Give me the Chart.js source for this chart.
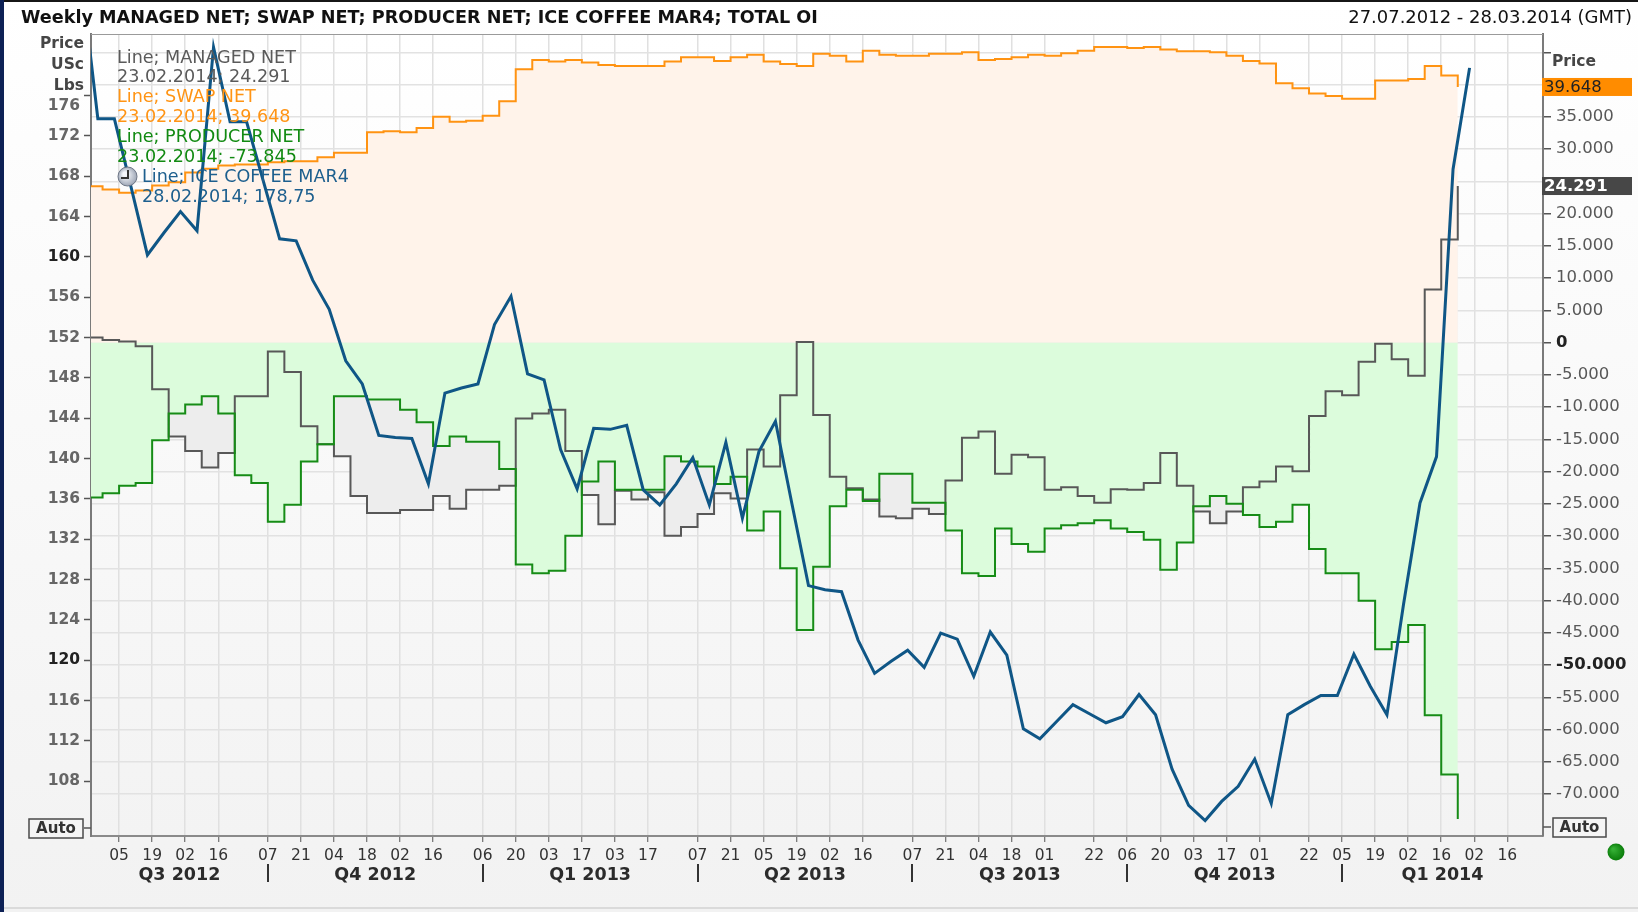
<!DOCTYPE html>
<html>
<head>
<meta charset="utf-8">
<title>Weekly COT - ICE Coffee MAR4</title>
<script src="https://cdn.jsdelivr.net/npm/chart.js@4.4.1/dist/chart.umd.min.js"></script>
<style>
  html, body { margin: 0; padding: 0; background: #f4f4f4; }
  #wrap { width: 1638px; height: 912px; }
  canvas { display: block; }
</style>
</head>
<body>
<div id="wrap"><canvas id="cot" width="1638" height="912"></canvas></div>
<script>
const FONT = '"DejaVu Sans", Verdana, sans-serif';

// COT report values, one per week starting Sunday 22.07.2012
const cotStart = '2012-07-22';
const managedNet = [800, 400, 200, -560, -7200, -14560, -16800, -19360, -17120, -8320,
  -8320, -1360, -4560, -12960, -15760, -17600, -23760, -26400, -26400, -25920,
  -25920, -23760, -25760, -22800, -22800, -22160, -11760, -10960, -10400, -16800,
  -23600, -28160, -22960, -24320, -23200, -29920, -28560, -26560, -23360, -24160,
  -16560, -19200, -8160, 100, -11200, -20800, -22560, -24320, -26960, -27200,
  -25760, -26560, -21360, -14720, -13760, -20320, -17360, -17760, -22800, -22400,
  -23760, -24800, -22720, -22800, -21760, -17120, -22160, -26160, -28000, -26160,
  -22400, -21520, -19200, -19920, -11360, -7520, -8160, -2960, -160, -2560,
  -5120, 8240, 16000, 24291];
const swapNet = [24270, 23750, 23240, 23600, 24370, 24880, 26400, 26950, 27470, 27620,
  27620, 27980, 28140, 28140, 28760, 29430, 29430, 32630, 32800, 32640,
  33280, 35040, 34240, 34400, 35200, 37440, 42400, 43840, 43600, 43840,
  43440, 43040, 42880, 42880, 42880, 43600, 44240, 44240, 43680, 44240,
  44640, 43600, 43200, 42880, 44800, 44480, 43600, 45280, 44640, 44480,
  44480, 44800, 44800, 45040, 43840, 44000, 44240, 44640, 44480, 44880,
  45280, 45840, 45840, 45680, 45840, 45440, 45200, 45200, 45040, 44480,
  43680, 43280, 40240, 39440, 38640, 38240, 37840, 37840, 40640, 40640,
  40880, 42880, 41440, 39648];
const producerNet = [-24000, -23360, -22160, -21760, -15120, -10960, -9600, -8320, -10960, -20560,
  -21760, -27760, -25120, -18400, -15760, -8320, -8320, -8800, -8800, -10400,
  -12320, -16000, -14560, -15360, -15360, -19600, -34400, -35760, -35360, -29920,
  -21520, -18400, -22800, -22800, -22800, -17600, -18400, -19200, -21920, -20800,
  -29120, -26160, -34960, -44560, -34720, -25360, -22800, -24560, -20320, -20320,
  -24800, -24800, -29120, -35760, -36160, -28800, -31200, -32400, -28800, -28320,
  -28000, -27520, -28800, -29360, -30560, -35200, -30960, -25360, -23760, -24960,
  -26720, -28560, -27760, -25120, -32000, -35760, -35760, -40000, -47520, -46400,
  -43760, -57760, -66960, -73845];

// ICE coffee MAR4 weekly close (USc/lb), one per week starting Friday 20.07.2012
const priceStart = '2012-07-20';
const coffeePrice = [187.8, 173.7, 173.7, 167.0, 160.2, 162.4, 164.5, 162.6, 180.8, 173.4,
  173.4, 167.6, 161.8, 161.6, 157.7, 154.8, 149.7, 147.4, 142.3, 142.1,
  142.0, 137.5, 146.5, 147.0, 147.4, 153.3, 156.1, 148.4, 147.8, 140.9,
  137.0, 143.0, 142.9, 143.3, 136.9, 135.4, 137.5, 140.1, 135.4, 141.6,
  134.1, 140.7, 143.7, 135.5, 127.4, 127.0, 126.8, 122.0, 118.7, 119.9,
  121.0, 119.3, 122.7, 122.1, 118.4, 122.8, 120.5, 113.2, 112.2, 113.9,
  115.6, 114.7, 113.8, 114.4, 116.6, 114.6, 109.2, 105.6, 104.1, 106.0,
  107.5, 110.2, 105.8, 114.6, 115.6, 116.5, 116.5, 120.6, 117.4, 114.6,
  125.5, 135.6, 140.2, 168.7, 178.75];

// axis labels
const tickDates = ['2012-08-05', '2012-08-19', '2012-09-02', '2012-09-16', '2012-10-07', '2012-10-21',
  '2012-11-04', '2012-11-18', '2012-12-02', '2012-12-16', '2013-01-06', '2013-01-20', '2013-02-03',
  '2013-02-17', '2013-03-03', '2013-03-17', '2013-04-07', '2013-04-21', '2013-05-05', '2013-05-19',
  '2013-06-02', '2013-06-16', '2013-07-07', '2013-07-21', '2013-08-04', '2013-08-18', '2013-09-01',
  '2013-09-22', '2013-10-06', '2013-10-20', '2013-11-03', '2013-11-17', '2013-12-01', '2013-12-22',
  '2014-01-05', '2014-01-19', '2014-02-02', '2014-02-16', '2014-03-02', '2014-03-16'];
const quarterLabels = ['Q3 2012', 'Q4 2012', 'Q1 2013', 'Q2 2013', 'Q3 2013', 'Q4 2013', 'Q1 2014'];
const quarterBreaks = ['2012-10-07', '2013-01-06', '2013-04-07', '2013-07-07', '2013-10-06', '2014-01-05'];
const priceTicks = [108, 112, 116, 120, 124, 128, 132, 136, 140, 144, 148, 152, 156, 160, 164, 168, 172, 176];
const netTicks = [-70000, -65000, -60000, -55000, -50000, -45000, -40000, -35000, -30000, -25000, -20000,
  -15000, -10000, -5000, 0, 5000, 10000, 15000, 20000, 25000, 30000, 35000, 40000, 45000];
// labels that sit under the header / value boxes in the original
const hiddenNetLabels = [25000, 40000, 45000];

const infoLines = [
  ['Line; MANAGED NET', '#5a5a5a'], ['23.02.2014; 24.291', '#5a5a5a'],
  ['Line; SWAP NET', '#ff9414'], ['23.02.2014; 39.648', '#ff9414'],
  ['Line; PRODUCER NET', '#128a12'], ['23.02.2014; -73.845', '#128a12'],
  ['Line; ICE COFFEE MAR4', '#1d5f8e'], ['28.02.2014; 178,75', '#1d5f8e'],
];

const DAY0 = Date.UTC(2012, 6, 27);
function dayOf(str) {
  const [y, m, d] = str.split('-').map(Number);
  return (Date.UTC(y, m - 1, d) - DAY0) / 86400000;
}
function dayLabel(v) {
  const dt = new Date(DAY0 + v * 86400000);
  return String(dt.getUTCDate()).padStart(2, '0');
}
function fmtNet(v) {
  const s = Math.abs(v).toString().replace(/\B(?=(\d{3})+(?!\d))/g, '.');
  return (v < 0 ? '-' : '') + s;
}
function weekly(start, values) {
  const d0 = dayOf(start);
  return values.map((v, i) => ({ x: d0 + 7 * i, y: v }));
}

function fitText(ctx, text, x, y, w, weight, color, align) {
  ctx.font = weight + ' 100px ' + FONT;
  const size = 100 * w / ctx.measureText(text).width;
  ctx.font = weight + ' ' + size.toFixed(2) + 'px ' + FONT;
  ctx.fillStyle = color;
  ctx.textAlign = align;
  ctx.fillText(text, x, y);
  return size;
}

function autoBox(ctx, x, y, w, h) {
  ctx.fillStyle = '#f5f5f5';
  ctx.fillRect(x, y, w, h);
  ctx.strokeStyle = '#4a4a4a';
  ctx.lineWidth = 1.5;
  ctx.strokeRect(x, y, w, h);
  ctx.fillStyle = '#333';
  ctx.font = 'bold 15px ' + FONT;
  ctx.textAlign = 'center';
  ctx.textBaseline = 'middle';
  ctx.fillText('Auto', x + w / 2, y + h / 2 + 1);
}

function valueBox(ctx, y, text, bg, fg, weight) {
  ctx.fillStyle = bg;
  ctx.fillRect(1542, y - 9, 90, 18);
  ctx.fillStyle = fg;
  ctx.font = weight + ' 16.5px ' + FONT;
  ctx.textAlign = 'left';
  ctx.textBaseline = 'middle';
  ctx.fillText(text, 1544, y + 1);
}

// page and plot backgrounds
const backdrop = {
  id: 'backdrop',
  beforeDraw(chart) {
    const { ctx, chartArea: a, width, height } = chart;
    ctx.save();
    let g = ctx.createLinearGradient(0, 0, 0, height);
    g.addColorStop(0, '#ffffff');
    g.addColorStop(1, '#f2f2f2');
    ctx.fillStyle = g;
    ctx.fillRect(0, 0, width, height);
    g = ctx.createLinearGradient(0, a.top, 0, a.bottom);
    g.addColorStop(0, '#ffffff');
    g.addColorStop(1, '#f3f3f3');
    ctx.fillStyle = g;
    ctx.fillRect(a.left, a.top, a.right - a.left, a.bottom - a.top);
    ctx.fillStyle = '#161616';
    ctx.fillRect(0, 0, width, 2);
    ctx.fillStyle = '#0d2155';
    ctx.fillRect(0, 0, 4, height);
    ctx.fillStyle = '#dadada';
    ctx.fillRect(4, height - 5, width, 2);
    ctx.restore();
  }
};

// titles, info text, value boxes, quarter labels
const overlay = {
  id: 'overlay',
  afterDraw(chart) {
    const { ctx, chartArea: a, scales } = chart;
    const xs = scales.x, yP = scales.yPrice, yN = scales.yNet;
    ctx.save();
    ctx.strokeStyle = '#9a9a9a';
    ctx.lineWidth = 1;
    ctx.beginPath();
    ctx.moveTo(a.left, a.top + 0.5);
    ctx.lineTo(a.right, a.top + 0.5);
    ctx.stroke();

    ctx.textBaseline = 'middle';
    fitText(ctx, 'Weekly MANAGED NET; SWAP NET; PRODUCER NET; ICE COFFEE MAR4; TOTAL OI', 21, 18, 797, 'bold', '#111', 'left');
    fitText(ctx, '27.07.2012 - 28.03.2014 (GMT)', 1632, 18, 284, 'normal', '#111', 'right');

    ctx.font = 'bold 15.5px ' + FONT;
    ctx.fillStyle = '#454545';
    ctx.textAlign = 'right';
    ctx.fillText('Price', 84, 44);
    ctx.fillText('USc', 84, 65);
    ctx.fillText('Lbs', 84, 86);
    // the top price label is pushed below the "Lbs" header
    ctx.fillStyle = '#666';
    ctx.fillText(String(priceTicks[priceTicks.length - 1]), 80, yP.getPixelForValue(priceTicks[priceTicks.length - 1]) + 10);
    ctx.fillStyle = '#454545';
    ctx.textAlign = 'left';
    ctx.fillText('Price', 1552, 62);

    // data readout in the top-left corner
    ctx.font = 'normal 100px ' + FONT;
    const infoSize = 100 * 179 / ctx.measureText(infoLines[0][0]).width;
    ctx.font = 'normal ' + infoSize.toFixed(2) + 'px ' + FONT;
    infoLines.forEach(([text, color], i) => {
      ctx.fillStyle = color;
      ctx.fillText(text, i < 6 ? 117 : 142, 58 + i * 19.9);
    });
    const ig = ctx.createRadialGradient(125, 174, 2, 127.5, 176.5, 10);
    ig.addColorStop(0, '#f4f6fa');
    ig.addColorStop(1, '#9aa3b3');
    ctx.fillStyle = ig;
    ctx.beginPath();
    ctx.arc(127.5, 176.5, 9.5, 0, Math.PI * 2);
    ctx.fill();
    ctx.strokeStyle = '#6d7686';
    ctx.lineWidth = 1;
    ctx.stroke();
    ctx.strokeStyle = '#333';
    ctx.lineWidth = 2;
    ctx.beginPath();
    ctx.moveTo(128, 170);
    ctx.lineTo(128, 178);
    ctx.lineTo(121, 178);
    ctx.stroke();

    // last value boxes on the right axis
    valueBox(ctx, yN.getPixelForValue(swapNet[swapNet.length - 1]), fmtNet(swapNet[swapNet.length - 1]), '#ff8c00', '#222', 'normal');
    valueBox(ctx, yN.getPixelForValue(managedNet[managedNet.length - 1]), fmtNet(managedNet[managedNet.length - 1]), '#474747', '#fff', 'bold');

    // Auto boxes
    ctx.strokeStyle = '#555';
    ctx.lineWidth = 1.5;
    ctx.beginPath();
    ctx.moveTo(84, 828); ctx.lineTo(a.left, 828);
    ctx.moveTo(a.right, 827); ctx.lineTo(a.right + 8, 827);
    ctx.stroke();
    autoBox(ctx, 29, 819, 54, 19);
    autoBox(ctx, 1553, 818, 53, 19);

    // quarter labels and separators
    const bounds = [xs.min].concat(quarterBreaks.map(dayOf), [xs.max]);
    ctx.font = 'bold 17.5px ' + FONT;
    ctx.fillStyle = '#2b2b2b';
    ctx.textAlign = 'center';
    quarterLabels.forEach((q, i) => {
      const px = xs.getPixelForValue((bounds[i] + bounds[i + 1]) / 2);
      ctx.fillText(q, px, 875);
    });
    ctx.strokeStyle = '#333';
    ctx.lineWidth = 2;
    quarterBreaks.forEach(d => {
      const px = Math.round(xs.getPixelForValue(dayOf(d)));
      ctx.beginPath();
      ctx.moveTo(px, 864);
      ctx.lineTo(px, 882);
      ctx.stroke();
    });

    // status dot
    const dg = ctx.createRadialGradient(1613, 849, 1, 1616, 852, 9);
    dg.addColorStop(0, '#35b035');
    dg.addColorStop(1, '#087a08');
    ctx.fillStyle = dg;
    ctx.beginPath();
    ctx.arc(1616, 852, 8.5, 0, Math.PI * 2);
    ctx.fill();
    ctx.restore();
  }
};

const chart = new Chart(document.getElementById('cot').getContext('2d'), {
  type: 'line',
  data: {
    datasets: [
      {
        label: 'ICE COFFEE MAR4',
        data: weekly(priceStart, coffeePrice),
        yAxisID: 'yPrice',
        borderColor: '#0f5686',
        borderWidth: 3,
        pointRadius: 0,
        fill: false,
        clip: 0,
      },
      {
        label: 'PRODUCER NET',
        data: weekly(cotStart, producerNet),
        yAxisID: 'yNet',
        stepped: 'before',
        borderColor: '#168c16',
        borderWidth: 2,
        pointRadius: 0,
        fill: 'origin',
        backgroundColor: '#dcfcdc',
        clip: 0,
      },
      {
        label: 'SWAP NET',
        data: weekly(cotStart, swapNet),
        yAxisID: 'yNet',
        stepped: 'before',
        borderColor: '#ff9312',
        borderWidth: 2,
        pointRadius: 0,
        fill: 'origin',
        backgroundColor: '#fff3ea',
        clip: 0,
      },
      {
        label: 'MANAGED NET',
        data: weekly(cotStart, managedNet),
        yAxisID: 'yNet',
        stepped: 'before',
        borderColor: '#585858',
        borderWidth: 2,
        pointRadius: 0,
        fill: 'origin',
        backgroundColor: '#ededed',
        clip: 0,
      },
    ],
  },
  options: {
    responsive: false,
    animation: false,
    devicePixelRatio: 1,
    layout: { padding: { top: 34, left: 0, right: 0, bottom: 0 } },
    plugins: {
      legend: { display: false },
      tooltip: { enabled: false },
      filler: { drawTime: 'beforeDatasetsDraw' },
    },
    scales: {
      x: {
        type: 'linear',
        min: -2.9,
        max: 612.1,
        afterBuildTicks: (s) => { s.ticks = tickDates.map(d => ({ value: dayOf(d) })); },
        afterFit: (s) => { s.height = 76; },
        ticks: {
          callback: (v) => dayLabel(v),
          color: '#333',
          font: { family: FONT, size: 15.5 },
          padding: 5,
          maxRotation: 0,
          autoSkip: false,
        },
        grid: { color: '#e0e0e0', lineWidth: 1.5, tickColor: '#555', tickLength: 6, tickWidth: 1 },
        border: { color: '#8a8a8a', width: 2 },
      },
      yPrice: {
        type: 'linear',
        position: 'left',
        min: 102.57,
        max: 182.11,
        afterBuildTicks: (s) => { s.ticks = priceTicks.map(v => ({ value: v })); },
        afterFit: (s) => { s.width = 91; },
        ticks: {
          callback: (v) => v === priceTicks[priceTicks.length - 1] ? '' : String(v),
          color: (c) => (c.tick && (c.tick.value === 120 || c.tick.value === 160)) ? '#222' : '#666',
          font: { family: FONT, size: 15.5, weight: 'bold' },
          padding: 4,
        },
        grid: { drawOnChartArea: false, tickColor: '#555', tickLength: 7, tickWidth: 1.5 },
        border: { color: '#7a7a7a', width: 2 },
      },
      yNet: {
        type: 'linear',
        position: 'right',
        min: -76481,
        max: 47860,
        afterBuildTicks: (s) => { s.ticks = netTicks.map(v => ({ value: v })); },
        afterFit: (s) => { s.width = 95; },
        ticks: {
          callback: (v) => hiddenNetLabels.includes(v) ? '' : fmtNet(v),
          color: (c) => (c.tick && (c.tick.value === 0 || c.tick.value === -50000)) ? '#222' : '#585858',
          font: (c) => ({
            family: FONT,
            size: 16.5,
            weight: (c.tick && (c.tick.value === 0 || c.tick.value === -50000)) ? 'bold' : 'normal',
          }),
          padding: 5,
        },
        grid: { color: '#e2e2e2', lineWidth: 1.5, tickColor: '#555', tickLength: 8, tickWidth: 1.5 },
        border: { color: '#7a7a7a', width: 2 },
      },
    },
  },
  plugins: [backdrop, overlay],
});
</script>
</body>
</html>
